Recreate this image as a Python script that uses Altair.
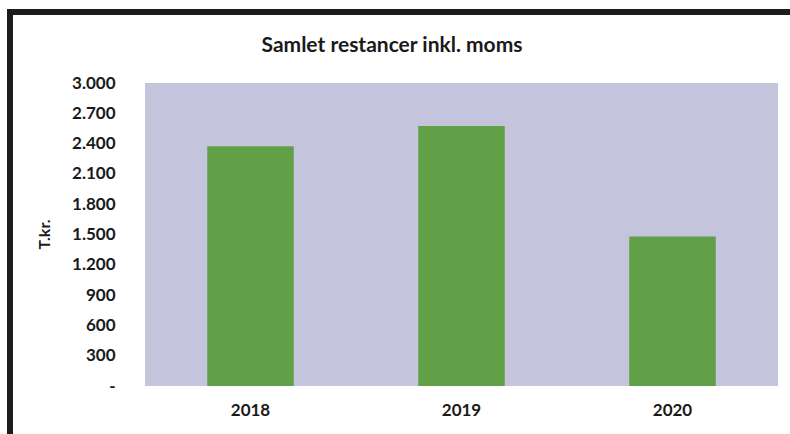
import altair as alt
import pandas as pd

years = ["2018", "2019", "2020"]
values = [2375, 2575, 1480]
y_ticks = [0, 300, 600, 900, 1200, 1500, 1800, 2100, 2400, 2700, 3000]
title_text = ["Samlet restancer inkl. moms"]

df = pd.DataFrame({"year": years, "value": values})
tdf = pd.DataFrame({"t": title_text})

W, H = 633, 303
FONT = "Lato"
INK = "#1a1a1a"

bars = alt.Chart(df).mark_bar(color="#62a047").encode(
    x=alt.X("year:N", title=None,
            scale=alt.Scale(paddingInner=0.59, paddingOuter=0.295),
            axis=alt.Axis(labelAngle=0, labelFont=FONT, labelFontSize=17,
                          labelFontWeight="bold", labelColor=INK,
                          labelPadding=16, ticks=False, domain=False)),
    y=alt.Y("value:Q", title="T.kr.",
            scale=alt.Scale(domain=[0, 3000], nice=False),
            axis=alt.Axis(values=y_ticks, grid=False, ticks=False, domain=False,
                          labelFont=FONT, labelFontSize=17, labelFontWeight="bold",
                          labelColor=INK, labelPadding=30,
                          labelExpr="datum.value == 0 ? '-' : replace(format(datum.value, ',d'), ',', '.')",
                          titleFont=FONT, titleFontSize=16, titleFontWeight="bold",
                          titleColor=INK, titleX=-101, titleY=151,
                          titleAngle=270, titleAlign="center", titleBaseline="middle")),
)

title = alt.Chart(tdf).mark_text(font=FONT, fontSize=21, fontWeight="bold",
                                 color=INK, align="center", baseline="alphabetic").encode(
    text="t:N", x=alt.value(247), y=alt.value(-31)
)

frame = alt.Chart(df).mark_rect(filled=False, stroke="#1c1c1c", strokeWidth=6).encode(
    x=alt.value(-135), x2=alt.value(720), y=alt.value(-71), y2=alt.value(420)
)

chart = alt.layer(bars, title, frame).properties(
    width=W, height=H,
    autosize=alt.AutoSizeParams(type="none"),
    padding={"left": 145, "top": 83, "right": 12, "bottom": 48},
    background="white",
).configure_view(fill="#c4c5dd", stroke=None)

chart.save("out.html", embed_options={"renderer": "svg", "actions": False})
